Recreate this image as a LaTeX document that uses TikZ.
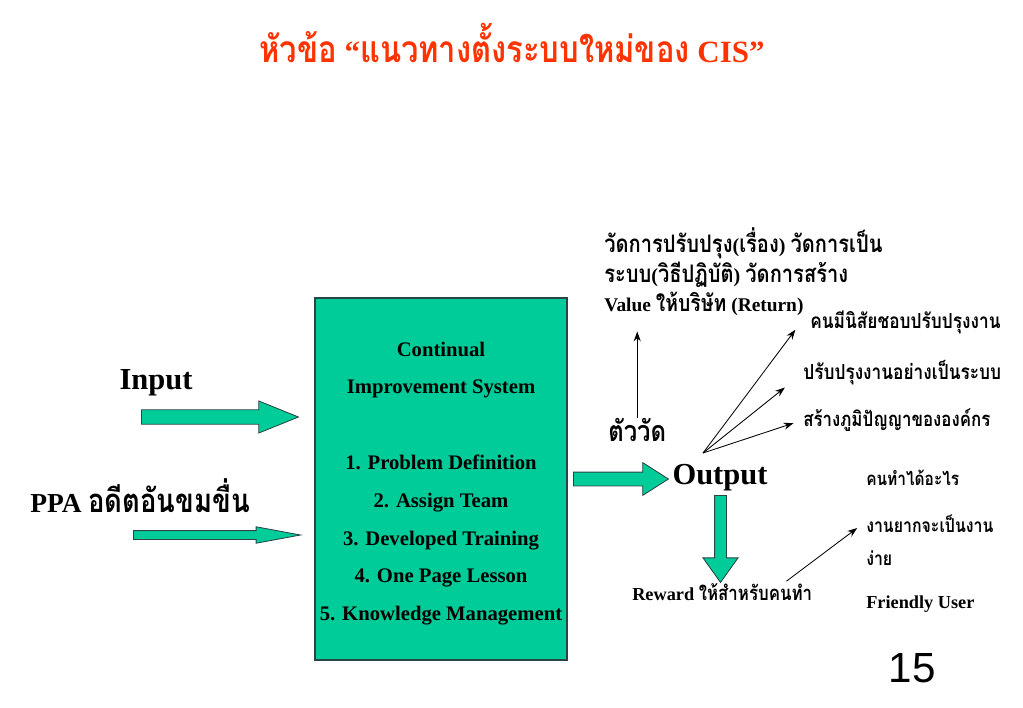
\documentclass[tikz,border=0pt]{standalone}
\usepackage{fontspec}
\setmainfont{Liberation Serif}
\newfontfamily\thaifont[Script=Thai, Scale=1.2, FakeStretch=0.833]{Loma}
\newfontfamily\pagefont{Liberation Sans}
\newcommand\thai[1]{{\thaifont #1}}
\usetikzlibrary{shapes.arrows,arrows.meta}
\definecolor{cisgreen}{RGB}{0,204,153}
\definecolor{cisedge}{RGB}{40,70,70}
\definecolor{cisred}{RGB}{255,51,0}

\begin{document}
\begin{tikzpicture}[
    x=0.025cm, y=-0.025cm,
    font=\bfseries,
    % Main box
    cisbox/.style={draw=cisedge, fill=cisgreen, line width=0.8pt,
                   minimum width=6.3cm, minimum height=9.05cm},
    % Block arrows (filled, outlined), placed by their tail
    blockarr/.style={single arrow, draw=cisedge, fill=cisgreen, line width=0.6pt,
                     inner xsep=0pt, minimum width=0pt, anchor=tail,
                     single arrow head indent=0pt},
    % Text
    big/.style={font=\bfseries\fontsize{21.7}{26}\selectfont},
    txt/.style={anchor=west, inner sep=0pt, align=left},
    % Thin arrows
    arr/.style={-{Stealth[length=7pt,width=5pt]}, line width=0.6pt, draw=black},
]
\useasboundingbox (0,0) rectangle (1023,708);

%% ── Title ──
\node[text=cisred, font=\bfseries\fontsize{22}{26}\selectfont] (title) at (512,43)
    {\thai{หัวข้อ} “\thai{แนวทางตั้งระบบใหม่ของ} CIS”};

%% ── Inputs ──
\node[big] (in) at (156,383) {Input};
\node[txt, font=\bfseries\fontsize{19.5}{22}\selectfont] (ppa) at (30,496)
    {PPA \thai{อดีตอันขมขื่น}};
\node[blockarr, minimum height=3.925cm, inner ysep=0.17cm,
      single arrow head extend=0.22cm, single arrow tip angle=44] (a1) at (141,417) {};
\node[blockarr, minimum height=4.175cm, inner ysep=0.1cm,
      single arrow head extend=0.095cm, single arrow tip angle=21] (a2) at (133,535) {};

%% ── Continual Improvement System ──
\node[cisbox] (cis) at (441,479) {};
\node[align=center, font=\bfseries\fontsize{14.7}{26.9}\selectfont] (cistxt) at (441,483.5)
    {Continual\\Improvement System\\[26.9pt]1. Problem Definition\\2. Assign Team\\
     3. Developed Training\\4. One Page Lesson\\5. Knowledge Management};

%% ── Output ──
\node[blockarr, minimum height=2.375cm, inner ysep=0.1625cm,
      single arrow head extend=0.2375cm, single arrow tip angle=65] (a3) at (573,479) {};
\node[big] (out) at (720,478) {Output};
\node[blockarr, rotate=-90, minimum height=2.175cm, inner ysep=0.1375cm,
      single arrow head extend=0.29cm, single arrow tip angle=71] (a4) at (720.5,495) {};

%% ── Measures ──
\node[txt, font=\bfseries\fontsize{14.3}{21}\selectfont] (msr) at (604,272)
    {\thai{วัดการปรับปรุง}(\thai{เรื่อง}) \thai{วัดการเป็น}\\
     \thai{ระบบ}(\thai{วิธีปฏิบัติ}) \thai{วัดการสร้าง}\\
     {\fontsize{13.8}{21}\selectfont Value \thai{ให้บริษัท} (Return)}};
\node[txt, font=\bfseries\fontsize{17}{20}\selectfont] (tw) at (608,430) {\thai{ตัววัด}};
\draw[arr, shorten >=0.38cm] (tw.north) -- (tw.north |- msr.south);

%% ── Results ──
\coordinate (fan) at (703,453);
\node[txt, font=\bfseries\fontsize{12.3}{15}\selectfont] (k1) at (810,322) {\thai{คนมีนิสัยชอบปรับปรุงงาน}};
\node[txt, font=\bfseries\fontsize{12.3}{15}\selectfont] (k2) at (803,373) {\thai{ปรับปรุงงานอย่างเป็นระบบ}};
\node[txt, font=\bfseries\fontsize{12}{15}\selectfont] (k3) at (803,420) {\thai{สร้างภูมิปัญญาขององค์กร}};
\draw[arr, shorten >=0.61cm] (fan) -- (k1.north west);
\draw[arr, shorten >=0.58cm] (fan) -- (k2.west);
\draw[arr, shorten >=0.25cm] (fan) -- (k3.west);

%% ── Reward ──
\node[txt, font=\bfseries\fontsize{13}{16}\selectfont] (rw) at (632,592)
    {Reward {\fontsize{12}{16}\selectfont\thai{ให้สำหรับคนทำ}}};
\node[txt, font=\bfseries\fontsize{11}{14}\selectfont] (what) at (866,478) {\thai{คนทำได้อะไร}};
\node[txt, font=\bfseries\fontsize{11.3}{23.4}\selectfont] (hard) at (866,540) {\thai{งานยากจะเป็นงาน}\\\thai{ง่าย}};
\node[txt, font=\bfseries\fontsize{13}{16}\selectfont] (fu) at (866,604) {Friendly User};
\draw[arr] ([xshift=-0.65cm,yshift=0.05cm]rw.north east) -- ([xshift=-0.22cm,yshift=0.3cm]hard.west);

%% ── Page number ──
\node[font=\pagefont\fontsize{30}{34}\selectfont] (pg) at (912,668) {15};
\end{tikzpicture}
\end{document}
